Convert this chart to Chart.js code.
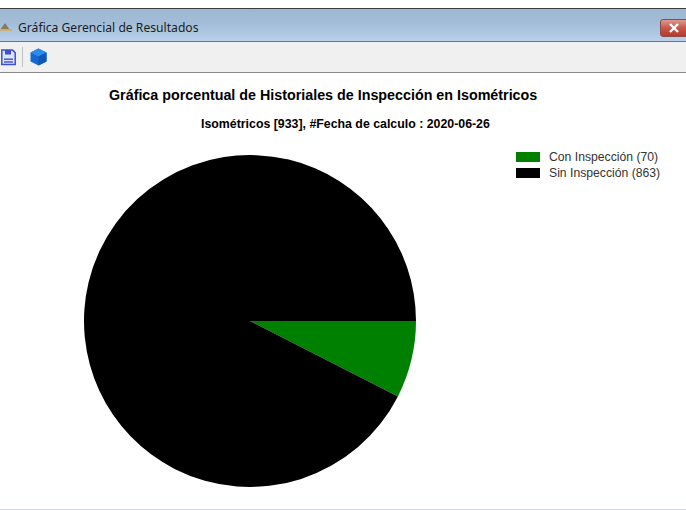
<!DOCTYPE html>
<html>
<head>
<meta charset="utf-8">
<title>Gráfica Gerencial de Resultados</title>
<script src="https://cdn.jsdelivr.net/npm/chart.js@4/dist/chart.umd.min.js"></script>
<style>
  html, body { margin: 0; padding: 0; background: #fff; }
  body { width: 686px; height: 510px; position: relative; overflow: hidden; font-family: "Liberation Sans", Arial, sans-serif; }
  .titlebar { position: absolute; left: 0; top: 8px; width: 686px; height: 34px; box-sizing: border-box;
    border-top: 1px solid #3c3c3c; border-bottom: 1px solid #6f7478;
    background: linear-gradient(to bottom, #9db8d4 0%, #a3bdd8 45%, #b9d1ea 100%); }
  .titlebar span { position: absolute; left: 18px; top: 11px; font: 12.15px "Noto Sans", sans-serif; color: #1c1c1c; line-height: 16px; }
  .close { position: absolute; left: 660px; top: 10px; width: 30px; height: 18px; box-sizing: border-box; border: 1px solid #8e4a45; border-radius: 3px;
    background: linear-gradient(to bottom, #dd9a90 0%, #c9574b 50%, #b43a2e 100%); }
  .toolbar { position: absolute; left: 0; top: 42px; width: 686px; height: 31px; box-sizing: border-box; background: #f0f0f0; border-bottom: 1px solid #8a8a8a; }
  .sep { position: absolute; left: 22px; top: 5px; width: 1px; height: 20px; background: #c4c4c4; }
  .bottomline { position: absolute; left: 0; top: 509px; width: 686px; height: 1px; background: #c9d4e4; }
  #title, #subtitle { position: absolute; white-space: nowrap; font-weight: bold; color: #000; }
  #title { left: 109px; top: 87px; font-size: 14.3px; line-height: 16px; }
  #subtitle { left: 201px; top: 117px; font-size: 12.35px; line-height: 15px; }
  #chartBox { position: absolute; left: 84px; top: 155px; width: 332px; height: 332px; }
  .chart-legend { position: absolute; left: 516px; top: 150px; }
  .legend-item { position: relative; height: 15.5px; line-height: 15px; font-size: 12.2px; color: #333; padding-left: 33px; white-space: nowrap; }
  .legend-item span { position: absolute; left: 0; top: 2px; width: 24px; height: 10px; }
</style>
</head>
<body>
<div class="titlebar">
  <svg style="position:absolute;left:0;top:12px" width="13" height="11" viewBox="0 0 13 11"><path d="M0 9 L5 2 L10 9 Z" fill="#8a7a55"/><rect x="0" y="8" width="12" height="2" fill="#c9b078"/></svg>
  <span>Gráfica Gerencial de Resultados</span>
  <div class="close"><svg width="28" height="16" viewBox="0 0 28 16"><path d="M9 4 L17 12 M17 4 L9 12" stroke="#fff" stroke-width="2.4"/></svg></div>
</div>
<div class="toolbar">
  <svg style="position:absolute;left:1px;top:7px" width="15" height="17" viewBox="0 0 15 17"><path d="M0.8 1 H11.5 L14.2 3.6 V15.5 H0.8 Z" fill="#dfe3fb" stroke="#3b4fd0" stroke-width="1.5"/><rect x="4" y="1" width="6" height="4.5" fill="#3b4fd0"/><rect x="3" y="9.5" width="9" height="1.4" fill="#3b4fd0"/><rect x="3" y="12.3" width="9" height="1.4" fill="#3b4fd0"/></svg>
  <div class="sep"></div>
  <svg style="position:absolute;left:30px;top:6px" width="17" height="18" viewBox="0 0 17 18"><path d="M8.5 0.5 L16.5 4.5 V13.5 L8.5 17.5 L0.5 13.5 V4.5 Z" fill="#1668d0"/><path d="M0.5 4.5 L8.5 8.5 L16.5 4.5 L8.5 0.5 Z" fill="#2f8ae8"/><path d="M8.5 8.5 V17.5 L16.5 13.5 V4.5 Z" fill="#0f58ba"/></svg>
</div>
<div id="title"></div>
<div id="subtitle"></div>
<div id="chartBox"><canvas id="pieChart" width="332" height="332"></canvas></div>
<div class="chart-legend"></div>
<div class="bottomline"></div>

<script>
const chartTitle = 'Gráfica porcentual de Historiales de Inspección en Isométricos';
const chartSubtitle = 'Isométricos [933], #Fecha de calculo : 2020-06-26';
const categories = ['Con Inspección (70)', 'Sin Inspección (863)'];
const inspectionValues = [70, 863];
const sliceColors = ['#008000', '#000000'];

document.getElementById('title').textContent = chartTitle;
document.getElementById('subtitle').textContent = chartSubtitle;

// pie starts at 3 o'clock and runs clockwise
const pieChart = new Chart(document.getElementById('pieChart'), {
  type: 'pie',
  data: {
    labels: categories,
    datasets: [{
      data: inspectionValues,
      backgroundColor: sliceColors,
      borderWidth: 0
    }]
  },
  options: {
    responsive: false,
    animation: false,
    rotation: 90,
    layout: { padding: 0 },
    plugins: {
      legend: { display: false },
      tooltip: { enabled: false }
    }
  }
});

const legendContainer = document.querySelector('.chart-legend');
pieChart.data.labels.forEach((label, index) => {
  const legendItem = document.createElement('div');
  legendItem.classList.add('legend-item');
  legendItem.innerHTML = `<span style="background-color:${sliceColors[index]}"></span>${label}`;
  legendContainer.appendChild(legendItem);
});
</script>
</body>
</html>
